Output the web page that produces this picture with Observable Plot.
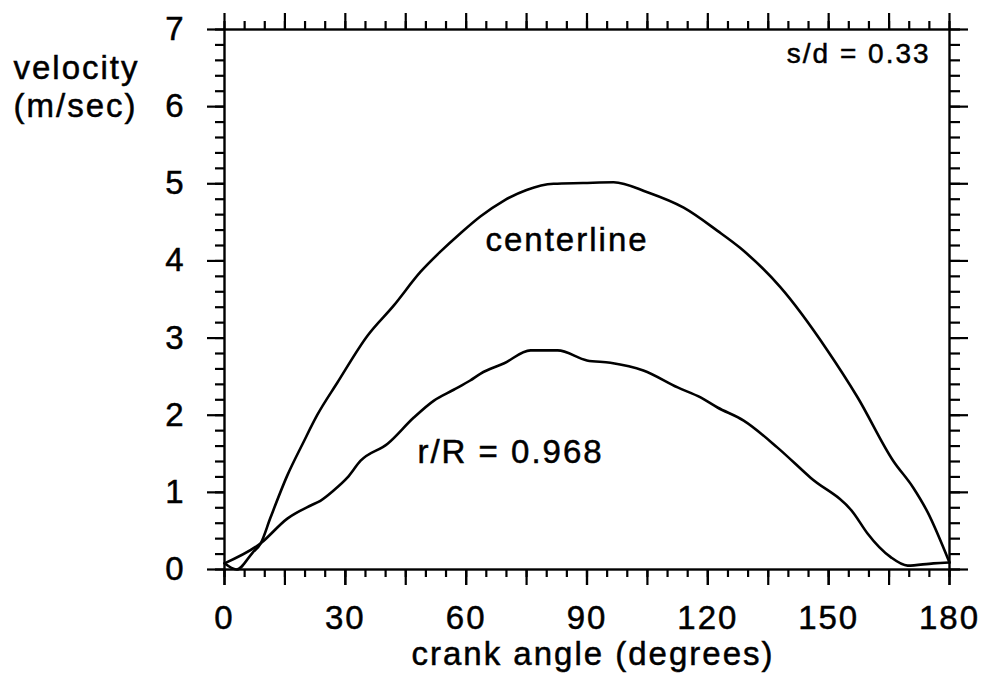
<!DOCTYPE html>
<html>
<head>
<meta charset="utf-8">
<script src="https://cdn.jsdelivr.net/npm/d3@7"></script>
<script src="https://cdn.jsdelivr.net/npm/@observablehq/plot@0.6"></script>
<style>
  html, body { margin: 0; padding: 0; background: #fff; }
  #chart svg text { stroke: #000; stroke-width: 0.5px; }
</style>
</head>
<body>
<div id="chart"></div>
<script>
// centerline velocity vs crank angle
const centerAngle = [0, 3, 7, 9, 11.4, 15.6, 19.6, 23, 28, 35.5, 42, 48.7, 53.6, 58.6, 63.6, 69.3, 75, 81.7, 89, 96.6, 105, 114, 122.4, 128, 138, 149.7, 157.2, 166, 171, 174.5, 180];
const centerVel   = [0.08, 0.0, 0.22, 0.34, 0.67, 1.22, 1.65, 2.0, 2.42, 3.03, 3.42, 3.86, 4.12, 4.36, 4.58, 4.78, 4.92, 5.00, 5.01, 5.02, 4.89, 4.69, 4.39, 4.17, 3.66, 2.84, 2.23, 1.41, 1.06, 0.75, 0.09];

// r/R = 0.968 velocity vs crank angle
const wallAngle = [0, 9, 15.6, 21.4, 23.8, 27, 30.5, 33.8, 40.5, 47, 52, 56.9, 61, 63.6, 69.3, 76, 82.7, 90, 95.8, 104, 112.5, 118.2, 122.4, 128.9, 137.3, 145.5, 156.2, 159.6, 165.4, 169.6, 176, 180];
const wallVel   = [0.08, 0.34, 0.66, 0.83, 0.89, 1.02, 1.19, 1.41, 1.63, 1.97, 2.19, 2.33, 2.45, 2.54, 2.67, 2.84, 2.84, 2.71, 2.68, 2.58, 2.36, 2.23, 2.10, 1.93, 1.58, 1.19, 0.73, 0.47, 0.16, 0.05, 0.08, 0.09];

// ticks
const xMinorTicks = d3.range(0, 181, 5);
const xMajorTicks = d3.range(0, 181, 15);
const xLabelTicks = [0, 30, 60, 90, 120, 150, 180];
const yMinorTicks = d3.range(0, 36).map(i => i / 5);
const yLabelTicks = [0, 1, 2, 3, 4, 5, 6, 7];

// texts
const yTitle = ["velocity", "(m/sec)"];
const xTitle = ["crank angle (degrees)"];
const centerLabel = ["centerline"];
const wallLabel = ["r/R = 0.968"];
const caseLabel = ["s/d = 0.33"];

const centerData = centerAngle.map((a, i) => ({angle: a, v: centerVel[i]}));
const wallData = wallAngle.map((a, i) => ({angle: a, v: wallVel[i]}));

const FONT = "'Liberation Sans', Arial, Helvetica, sans-serif";
const noText = () => "";
const intText = d => String(d);

const chart = Plot.plot({
  width: 990,
  height: 681,
  marginLeft: 224,
  marginRight: 41,
  marginTop: 29,
  marginBottom: 112,
  style: {
    fontFamily: FONT,
    fontSize: "33px",
    letterSpacing: "2px",
    background: "#fff",
    color: "#000",
    overflow: "visible"
  },
  x: {domain: [0, 180], label: null},
  y: {domain: [0, 7], label: null},
  marks: [
    // x bottom ticks
    Plot.axisX(xMinorTicks, {anchor: "bottom", tickSize: 8, strokeWidth: 2.2, tickFormat: noText, label: null}),
    Plot.axisX(xMajorTicks, {anchor: "bottom", tickSize: 16, strokeWidth: 2.2, tickFormat: noText, label: null}),
    Plot.axisX(xLabelTicks, {anchor: "bottom", tickSize: 16, tickPadding: 20, strokeWidth: 2.2, fontSize: 33, tickFormat: intText, label: null}),
    // x top ticks
    Plot.axisX(xMinorTicks, {anchor: "top", tickSize: 9, strokeWidth: 2.2, tickFormat: noText, label: null}),
    Plot.axisX(xMajorTicks, {anchor: "top", tickSize: 17, strokeWidth: 2.2, tickFormat: noText, label: null}),
    // y left ticks
    Plot.axisY(yMinorTicks, {anchor: "left", tickSize: 9, strokeWidth: 2.2, tickFormat: noText, label: null}),
    Plot.axisY(yLabelTicks, {anchor: "left", tickSize: 17, tickPadding: 22, strokeWidth: 2.2, fontSize: 33, tickFormat: intText, label: null}),
    // y right ticks
    Plot.axisY(yMinorTicks, {anchor: "right", tickSize: 10, strokeWidth: 2.2, tickFormat: noText, label: null}),
    Plot.axisY(yLabelTicks, {anchor: "right", tickSize: 18, strokeWidth: 2.2, tickFormat: noText, label: null}),
    Plot.frame({stroke: "#000", strokeWidth: 2.4}),
    // curves
    Plot.line(centerData, {x: "angle", y: "v", stroke: "#000", strokeWidth: 2.6, curve: "monotone-x"}),
    Plot.line(wallData, {x: "angle", y: "v", stroke: "#000", strokeWidth: 2.6, curve: "monotone-x"}),
    // annotations
    Plot.text(centerLabel, {x: 64.8, y: 4.27, textAnchor: "start", lineAnchor: "middle", fontSize: 33, fill: "#000"}),
    Plot.text(wallLabel, {x: 47.9, y: 1.52, textAnchor: "start", lineAnchor: "middle", fontSize: 33, fill: "#000"}),
    Plot.text(caseLabel, {x: 175.3, y: 6.68, textAnchor: "end", lineAnchor: "middle", fontSize: 28, fill: "#000"}),
    // axis titles
    Plot.text(yTitle, {frameAnchor: "left", y: [6.5, 6.0], dx: -211, textAnchor: "start", lineAnchor: "middle", fontSize: 33, fill: "#000"}),
    Plot.text(xTitle, {frameAnchor: "bottom", lineAnchor: "middle", dx: 6, dy: 85, fontSize: 33, fill: "#000"})
  ]
});

document.getElementById("chart").appendChild(chart);
</script>
</body>
</html>
